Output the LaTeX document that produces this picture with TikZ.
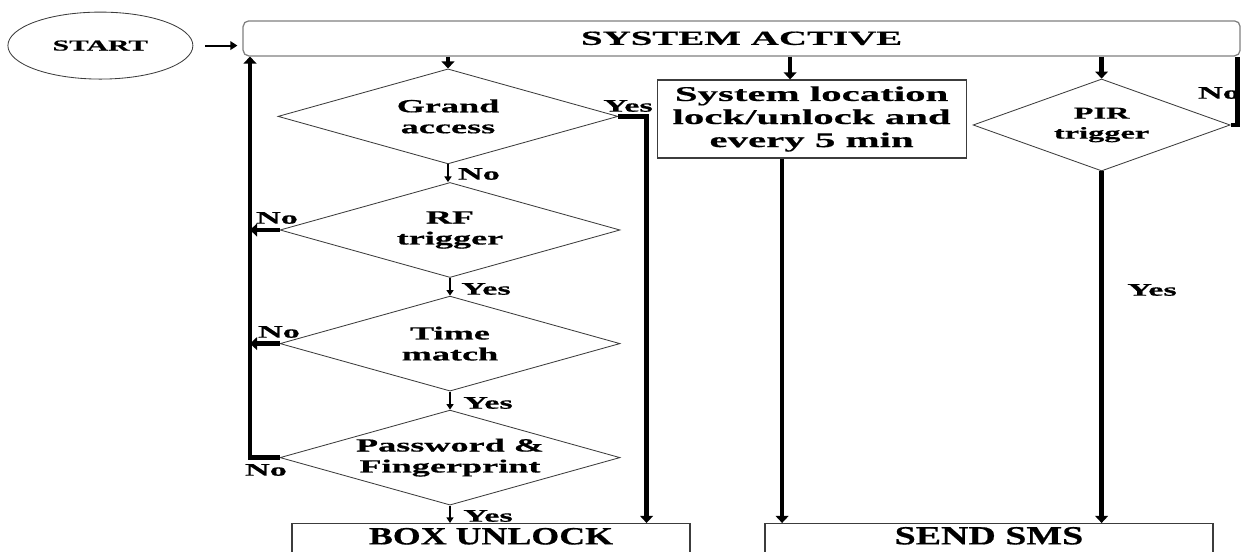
\documentclass[tikz,border=0pt]{standalone}
\usepackage{fontspec}
\setmainfont{Liberation Serif}[FakeStretch=1.95, FakeBold=0.6]
\newfontfamily\boxfont{Liberation Serif}[FakeStretch=1.45, FakeBold=0.6]
\usetikzlibrary{arrows.meta, shapes.geometric}
\definecolor{edge}{RGB}{60, 60, 60}
\definecolor{frame}{RGB}{128, 128, 128}

\begin{document}
\begin{tikzpicture}[font=\bfseries,
        decision/.style={diamond, draw=edge, line width=0.6pt, inner sep=0pt, align=center,
                  minimum width=8.5cm, minimum height=2.375cm, shape aspect=3.58,
                  font=\bfseries\fontsize{13.2}{14.9}\selectfont},
        endbox/.style={rectangle, draw=edge, line width=0.8pt, anchor=north,
                  text height=0.42cm, text depth=1cm, inner ysep=0.1cm, font=\boxfont\bfseries},
        lbl/.style={inner sep=0pt, font=\bfseries\fontsize{12.5}{14}\selectfont},
        arr/.style={line width=1.1pt, -{Triangle[width=5pt,length=4pt]}},
        fat/.style={line width=3.2pt, -{Triangle[width=9pt,length=5pt]}}]
        \useasboundingbox (0,0) rectangle (31.05,13.8);
        \clip (0,0) rectangle (31.05,13.8);
        % top row
        \node[ellipse, draw=edge, line width=0.6pt, minimum width=4.625cm, minimum height=1.675cm,
              font=\bfseries\fontsize{10.8}{12}\selectfont] (start) at (2.51,12.66) {START};
        \node[rectangle, rounded corners=4pt, draw=frame, line width=0.9pt,
              minimum width=24.925cm, minimum height=0.875cm, inner sep=0pt,
              font=\bfseries\fontsize{14.2}{16}\selectfont] (active) at (18.54,12.84) {SYSTEM ACTIVE};
        % access branch
        \node[decision] (grand) at (11.2,10.89) {Grand\\access};
        \node[decision] (rf)    at (11.25,8.05)  {RF\\trigger};
        \node[decision] (time)  at (11.25,5.21)  {Time\\match};
        \node[decision] (pass)  at (11.25,2.36)  {Password \&\\Fingerprint};
        \node[endbox, minimum width=9.95cm,
              font=\boxfont\bfseries\fontsize{17.6}{20}\selectfont] (unlock) at (12.275,0.725) {BOX UNLOCK};
        % location and PIR branch
        \node[rectangle, draw=edge, line width=0.8pt, minimum width=7.725cm, minimum height=1.95cm,
              inner sep=0pt, align=center,
              font=\bfseries\fontsize{14.9}{16.4}\selectfont] (sysloc) at (20.29,10.825)
              {System location\\lock/unlock and\\every 5 min};
        \node[diamond, draw=edge, line width=0.6pt, inner sep=0pt, align=center,
              minimum width=6.425cm, minimum height=2.3cm, shape aspect=2.79,
              font=\bfseries\fontsize{11.8}{14.2}\selectfont] (pir) at (27.54,10.675) {PIR\\trigger};
        \node[endbox, minimum width=11.2cm,
              font=\boxfont\bfseries\fontsize{18.6}{21}\selectfont] (sms) at (24.725,0.725) {SEND SMS};
        \coordinate (loop) at (6.25,0);

        \draw[arr, line width=1.4pt, -{Triangle[width=6pt,length=5pt]}, shorten <=0.3cm, shorten >=0.125cm]
            (start) -- (start -| active.west);
        \foreach \b in {grand, pir}
            \draw[fat] (active.south -| \b.north) -- (\b.north);
        \draw[fat] ([xshift=-0.5375cm]sysloc.north |- active.south) -- ([xshift=-0.5375cm]sysloc.north);
        \foreach \a/\b in {grand/rf, rf/time, time/pass, pass/unlock}
            \draw[arr] (\a.south) -- (\a.south |- \b.north);
        \foreach \a in {rf, time}
            \draw[fat] (\a.west) -- (\a.west -| loop);
        \draw[fat] (pass.west) -| (loop |- active.south);
        \draw[fat] (grand.east) -| ([xshift=-1.1cm]unlock.north east);
        \draw[fat] ([xshift=-0.7375cm]sysloc.south) -- ([xshift=-0.7375cm]sysloc.south |- sms.north);
        \draw[fat] (pir.south) -- (pir.south |- sms.north);
        \draw[line width=3.2pt] (pir.east) -| ([xshift=-0.075cm]active.south east);

        % branch labels
        \node[lbl] (ga-yes) at (15.7,11.15)   {Yes};
        \node[lbl] (ga-no)  at (11.975,9.45)  {No};
        \node[lbl] (rf-no)  at (6.925,8.35)   {No};
        \node[lbl] (rf-yes) at (12.15,6.575)  {Yes};
        \node[lbl] (tm-no)  at (6.975,5.5)    {No};
        \node[lbl] (tm-yes) at (12.2,3.725)   {Yes};
        \node[lbl] (pf-no)  at (6.65,2.05)    {No};
        \node[lbl] (pf-yes) at (12.2,0.9)     {Yes};
        \node[lbl] (pir-no) at (30.475,11.475) {No};
        \node[lbl] (pir-yes) at (28.8,6.55)   {Yes};
\end{tikzpicture}
\end{document}
